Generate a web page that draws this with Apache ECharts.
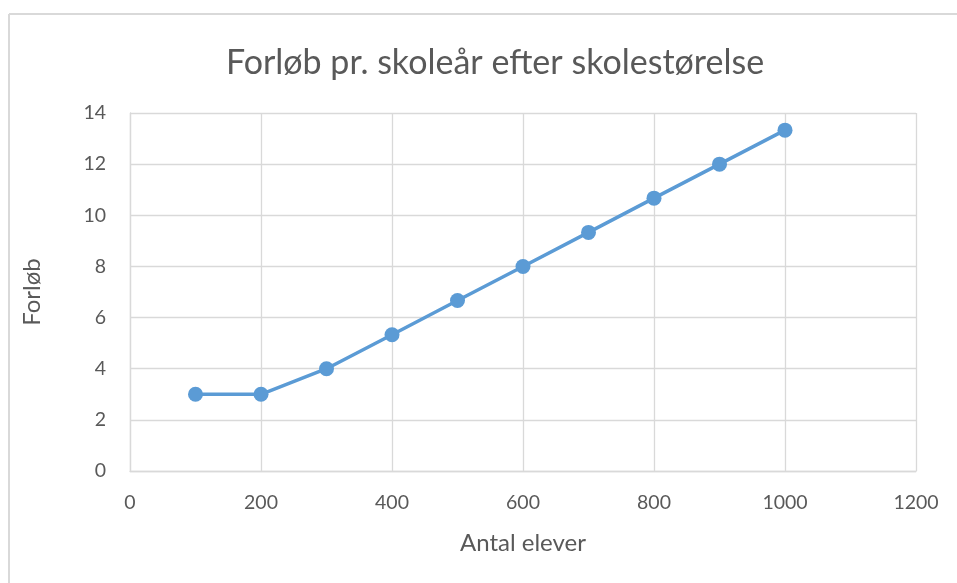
<!DOCTYPE html>
<html><head><meta charset="utf-8">
<script src="https://cdn.jsdelivr.net/npm/echarts@6/dist/echarts.min.js"></script>
<style>html,body{margin:0;padding:0;background:#fff}#c{width:957px;height:583px}</style>
</head><body><div id="c"></div>
<script>
const students = [100, 200, 300, 400, 500, 600, 700, 800, 900, 1000];
const forloeb = [3, 3, 4, 5.33, 6.67, 8, 9.33, 10.67, 12, 13.33];
const title = 'Forløb pr. skoleår efter skolestørelse';
const xName = 'Antal elever';
const yName = 'Forløb';
const chart = echarts.init(document.getElementById('c'));
const font = 'Lato, Carlito, "Open Sans", sans-serif';
chart.setOption({
  animation: false,
  textStyle: {fontFamily: font},
  title: {text: title, left: 490, top: 41, textAlign: 'center',
    textStyle: {fontFamily: font, fontSize: 34, fontWeight: 'normal', color: '#595959'}},
  graphic: [
    {type: 'line', shape: {x1: 9, y1: 14, x2: 957, y2: 14}, style: {stroke: '#d9d9d9', lineWidth: 2}},
    {type: 'line', shape: {x1: 9, y1: 14, x2: 9, y2: 583}, style: {stroke: '#d9d9d9', lineWidth: 2}}
  ],
  grid: {left: 130, right: 41, top: 113, bottom: 112, containLabel: false},
  xAxis: {type: 'value', min: 0, max: 1200, interval: 200,
    name: xName, nameLocation: 'middle', nameGap: 60,
    nameTextStyle: {fontFamily: font, fontSize: 24, color: '#595959'},
    axisLine: {show: true, lineStyle: {color: '#d9d9d9', width: 1.3}},
    axisTick: {show: false},
    axisLabel: {fontFamily: font, fontSize: 19.5, color: '#595959', margin: 22, formatter: v => String(v)},
    splitLine: {show: true, lineStyle: {color: '#d9d9d9', width: 1.3}}},
  yAxis: {type: 'value', min: 0, max: 14, interval: 2,
    name: yName, nameLocation: 'middle', nameGap: 86, nameRotate: 90,
    nameTextStyle: {fontFamily: font, fontSize: 24, color: '#595959'},
    axisLine: {show: true, lineStyle: {color: '#d9d9d9', width: 1.3}},
    axisTick: {show: false},
    axisLabel: {fontFamily: font, fontSize: 19.5, color: '#595959', margin: 24, formatter: v => String(v)},
    splitLine: {show: true, lineStyle: {color: '#d9d9d9', width: 1.3}}},
  series: [{type: 'line', data: students.map((x, i) => [x, forloeb[i]]),
    lineStyle: {color: '#5B9BD5', width: 3.5},
    itemStyle: {color: '#5B9BD5'},
    symbol: 'circle', symbolSize: 15}]
});
</script></body></html>
